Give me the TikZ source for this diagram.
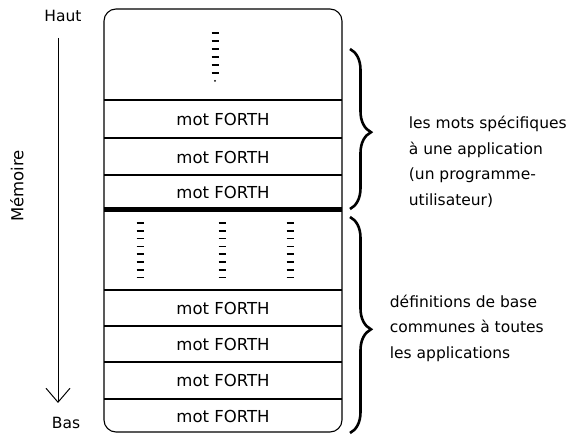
\documentclass[tikz,border=0pt]{standalone}
\usepackage{fontspec}
\setmainfont{DejaVu Sans}
\usetikzlibrary{arrows.meta,decorations.pathreplacing}
\begin{document}
\begin{tikzpicture}[x=1pt,y=-1pt,line width=1.1pt,
  font=\fontsize{15.5}{25.5}\selectfont,
  accolade/.style={decorate,line width=2.6pt,decoration={brace,amplitude=21pt,aspect=0.52}},
  tiret/.style={line width=1.6pt},
  mot/.style={font=\fontsize{16.5}{20}\selectfont},
  fleche/.style={line width=1pt,-{Straight Barb[length=14pt,width=24pt,line width=1pt]}}]
\useasboundingbox (0,0) rectangle (568,435);
\draw[rounded corners=12pt] (104,9) rectangle (342,432);
\foreach \y in {100,138,175,290,326,362,399}
  \draw (104,\y) -- (342,\y);
\draw[line width=5pt] (104,210) -- (342,210);
\foreach \y/\n in {119/a,157/b,192/c,308/d,344/e,380/f,416/g}
  \node[mot] (mot\n) at (223,\y) {mot FORTH};
\foreach \k in {0,...,5}
  \draw[tiret] (211.5,33+\k*8) -- ++(7,0);
\fill (215,81) circle (1pt);
\foreach \x in {140,222,290}
  \foreach \k in {0,...,7}
    \draw[tiret] (\x-3.5,223+\k*7.8) -- ++(7,0);
\draw[accolade] (350,49) coordinate (a1) -- (350,209) coordinate (a2);
\draw[accolade] (350,217) coordinate (b1) -- (350,433) coordinate (b2);
\node[anchor=west,align=left] (specifiques) at (405,162)
  {les mots spécifiques\\à une application\\(un programme-\\utilisateur)};
\node[anchor=west,align=left] (base) at (386,328)
  {définitions de base\\communes à toutes\\les applications};
\node (haut) at (63,16) {Haut};
\node (bas) at (66,423) {Bas};
\node[rotate=90,mot] (memoire) at (17,186) {Mémoire};
\coordinate (debut) at (58,38);
\coordinate (fin) at (58,403);
\draw[fleche] (debut) -- (fin);
\end{tikzpicture}
\end{document}
